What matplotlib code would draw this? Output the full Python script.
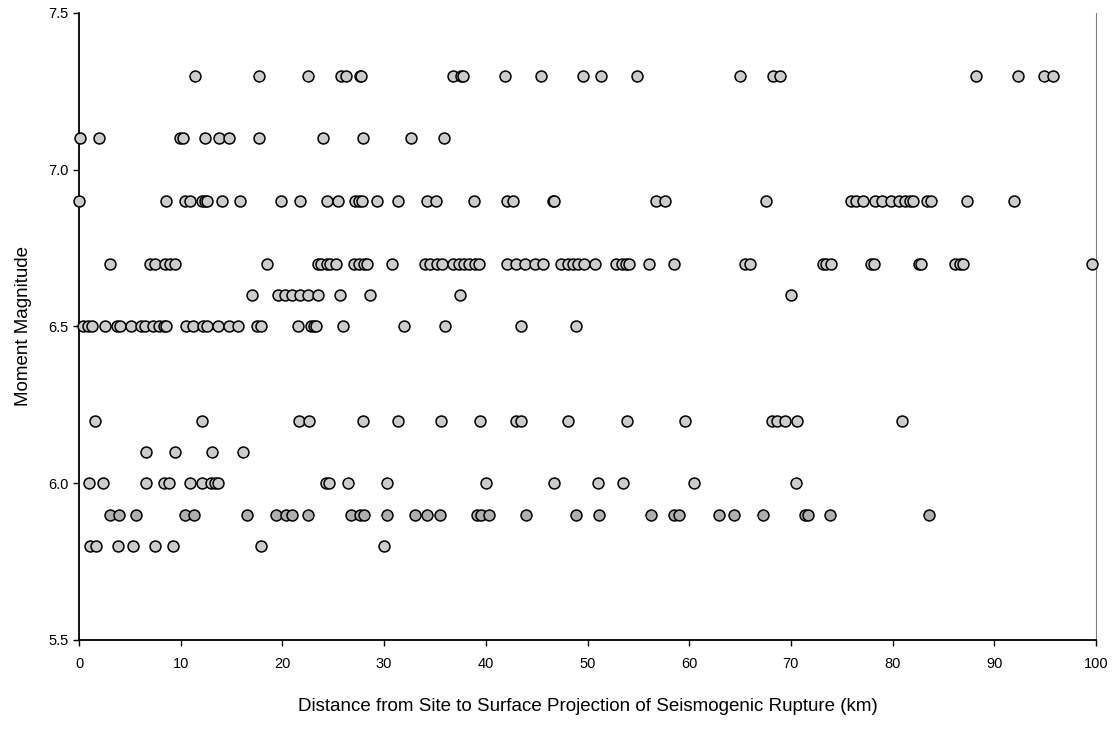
import matplotlib.pyplot as plt

plt.rcParams['font.family'] = ['Liberation Sans', 'DejaVu Sans']

# distances (km) for each magnitude row
d73 = [11.4, 17.7, 22.5, 25.8, 26.3, 27.6, 27.7, 36.8, 37.6, 37.8, 41.9, 45.4, 49.6,
       51.3, 54.9, 65.0, 68.2, 68.9, 88.2, 92.3, 94.9, 95.8]
d71 = [0.1, 2.0, 9.9, 10.2, 12.4, 13.8, 14.7, 17.7, 24.0, 27.9, 32.6, 35.9]
d69 = [0.0, 8.6, 10.4, 10.9, 12.1, 12.4, 12.6, 14.1, 15.8, 19.9, 21.7, 24.4, 25.5,
       27.1, 27.5, 27.8, 29.3, 31.4, 34.2, 35.1, 38.8, 42.1, 42.7, 46.6, 46.7,
       56.7, 57.6, 67.6, 75.9, 76.4, 77.1, 78.3, 79.0, 79.8, 80.6, 81.2, 81.7, 82.0,
       83.4, 83.8, 87.3, 91.9]
d67 = [3.0, 7.0, 7.5, 8.5, 8.9, 9.4, 18.5, 23.5, 23.8, 24.4, 24.7, 25.3, 27.0, 27.5,
       28.0, 28.3, 30.8, 34.0, 34.5, 35.2, 35.7, 36.8, 37.4, 37.9, 38.3, 38.9, 39.3,
       42.1, 43.0, 43.9, 44.8, 45.6, 47.4, 48.1, 48.6, 49.1, 49.7, 50.7, 52.8, 53.4,
       53.8, 54.1, 56.0, 58.5, 65.5, 66.0, 73.2, 73.5, 73.9, 77.9, 78.2, 82.6, 82.8,
       86.1, 86.6, 86.9, 99.6]
d66 = [17.0, 19.6, 20.3, 20.9, 21.7, 22.5, 23.5, 25.7, 28.6, 37.5, 70.0]
d65 = [0.4, 0.9, 1.3, 2.6, 3.7, 4.0, 5.1, 6.1, 6.5, 7.3, 7.9, 8.4, 8.6, 10.5, 11.2,
       12.2, 12.6, 13.7, 14.7, 15.6, 17.5, 17.9, 21.5, 22.8, 23.1, 23.3, 26.0, 32.0,
       36.0, 43.5, 48.9]
d62 = [1.6, 12.1, 21.6, 22.6, 27.9, 31.4, 35.6, 39.4, 43.0, 43.5, 48.1, 53.9, 59.6,
       68.1, 68.6, 69.4, 70.6, 80.9]
d61 = [6.6, 9.4, 13.1, 16.1]
d60 = [1.0, 2.4, 6.6, 8.4, 8.8, 10.9, 12.1, 13.0, 13.4, 13.7, 24.3, 24.6, 26.4, 30.3,
       40.0, 46.7, 51.0, 53.5, 60.5, 70.5]
d59 = [3.0, 3.9, 5.6, 10.4, 11.3, 16.5, 19.4, 20.4, 20.9, 22.5, 26.7, 27.6, 28.0,
       30.3, 33.0, 34.2, 35.5, 39.1, 39.5, 40.3, 44.0, 48.9, 51.1, 56.2, 58.5, 59.0,
       62.9, 64.4, 67.3, 71.4, 71.7, 73.8, 83.6]
d58 = [1.1, 1.7, 3.8, 5.3, 7.5, 9.2, 17.9, 30.0]

rows = [(7.3, d73), (7.1, d71), (6.9, d69), (6.7, d67), (6.6, d66), (6.5, d65),
        (6.2, d62), (6.1, d61), (6.0, d60), (5.8, d58)]

fig = plt.figure(figsize=(11.18, 7.42), dpi=100)
ax = fig.add_axes([0.0707, 0.1375, 0.9096, 0.845])

for mag, dist in rows:
    ax.scatter(dist, [mag] * len(dist), s=62, facecolor='#CCCCCC', edgecolor='black',
               linewidth=1.1, zorder=3, clip_on=False)
# darker fill for the 5.9 row
ax.scatter(d59, [5.9] * len(d59), s=62, facecolor='#AFAFAF', edgecolor='black',
           linewidth=1.1, zorder=3, clip_on=False)

ax.set_xlim(0, 100)
ax.set_ylim(5.5, 7.5)
ax.set_xticks(range(0, 101, 10))
ax.set_yticks([5.5, 6.0, 6.5, 7.0, 7.5])
ax.set_yticklabels(['5.5', '6.0', '6.5', '7.0', '7.5'])
ax.tick_params(labelsize=10.5, length=4, width=1, direction='out')
ax.tick_params(axis='x', pad=8)

ax.spines['top'].set_visible(False)
ax.spines['right'].set_color('#808080')
ax.spines['right'].set_linewidth(0.8)
ax.spines['left'].set_linewidth(1.3)
ax.spines['bottom'].set_linewidth(1.3)

ax.set_xlabel('Distance from Site to Surface Projection of Seismogenic Rupture (km)',
              fontsize=13.5, labelpad=20)
ax.set_ylabel('Moment Magnitude', fontsize=13.5, labelpad=12)

fig.savefig('out.png', dpi=100)
